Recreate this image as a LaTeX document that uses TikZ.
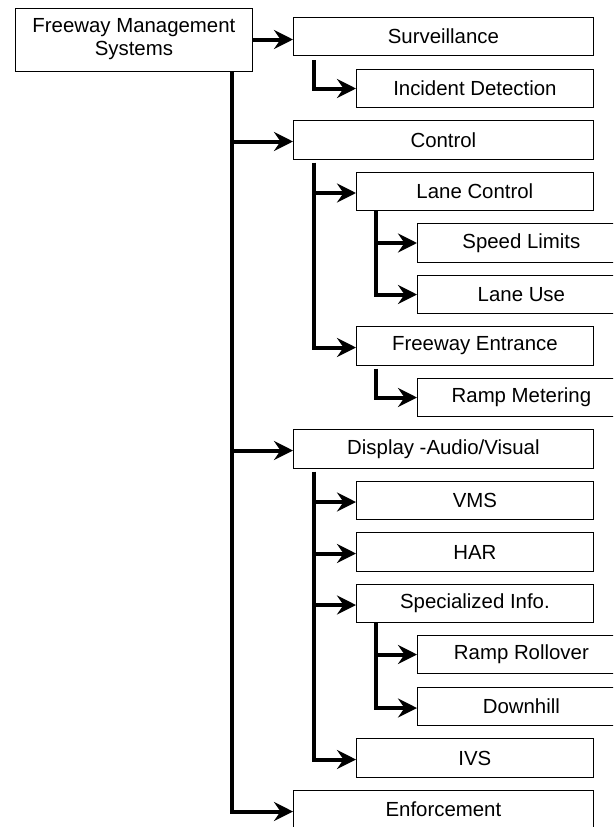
\documentclass[tikz,border=0pt]{standalone}
\usepackage{fontspec}
\setmainfont{Liberation Sans}
\usetikzlibrary{arrows.meta, positioning}

\begin{document}
\begin{tikzpicture}[
    x=1pt, y=-1pt,
    box/.style={draw, line width=0.8pt, minimum height=38.5pt, inner sep=0pt, anchor=west, align=center, font=\fontsize{20.4}{23}\selectfont},
    mainbox/.style={box, minimum width=300pt},
    subbox/.style={box, minimum width=237pt},
    leafbox/.style={box, minimum width=208pt},
    arrow/.style={-{Stealth[length=19pt, width=19pt, inset=6.5pt]}, line width=4pt}
]

\useasboundingbox (0,0) rectangle (613,827);
\clip (0,0) rectangle (613,827);

% Boxes
\node[box, minimum width=237pt, minimum height=63pt] (fms) at (15,39.5) {Freeway Management\\Systems};
\node[mainbox] (surv) at (293,36.5) {Surveillance};
\node[subbox] (incid) at (356,88.5) {Incident Detection};
\node[mainbox] (ctrl) at (293,140) {Control};
\node[subbox] (lanectrl) at (356,191.5) {Lane Control};
\node[leafbox] (speed) at (417,243) {Speed Limits};
\node[leafbox] (laneuse) at (417,294.5) {Lane Use};
\node[subbox] (entr) at (356,346) {Freeway Entrance};
\node[leafbox] (ramp) at (417,397.5) {Ramp Metering};
\node[mainbox] (disp) at (293,449) {Display -Audio/Visual};
\node[subbox] (vms) at (356,500.5) {VMS};
\node[subbox] (har) at (356,552) {HAR};
\node[subbox] (spec) at (356,603.5) {Specialized Info.};
\node[leafbox] (roll) at (417,654.5) {Ramp Rollover};
\node[leafbox] (down) at (417,706.5) {Downhill};
\node[subbox] (ivs) at (356,758) {IVS};
\node[mainbox] (enf) at (293,809.5) {Enforcement};

% Vertical lines of the tree
\coordinate (trunk) at (232,0);
\coordinate (branchA) at (314,0);
\coordinate (branchB) at (376,0);

% Top level
\draw[arrow] (fms.east) -- (fms.east -| surv.west);
\draw[arrow] (trunk |- fms.south) |- ([yshift=-2pt]enf.west);
\foreach \n in {ctrl, disp}
    \draw[arrow] ([yshift=-1.5pt]trunk |- \n.west) -- ([yshift=-1.5pt]\n.west);

% Second level
\draw[arrow] ([yshift=-4pt]branchA |- surv.south) |- (incid.west);
\draw[arrow] ([yshift=-3pt]branchA |- ctrl.south) |- ([yshift=-1.5pt]entr.west);
\draw[arrow] ([yshift=-1.5pt]branchA |- lanectrl.west) -- ([yshift=-1.5pt]lanectrl.west);
\draw[arrow] ([yshift=-3pt]branchA |- disp.south) |- ([yshift=-1.5pt]ivs.west);
\foreach \n in {vms, har, spec}
    \draw[arrow] ([yshift=-1.5pt]branchA |- \n.west) -- ([yshift=-1.5pt]\n.west);

% Third level
\draw[arrow] (branchB |- lanectrl.south) |- (laneuse.west);
\draw[arrow] (branchB |- speed.west) -- (speed.west);
\draw[arrow] ([yshift=-3pt]branchB |- entr.south) |- (ramp.west);
\draw[arrow] (branchB |- spec.south) |- ([yshift=-1.5pt]down.west);
\draw[arrow] (branchB |- roll.west) -- (roll.west);

\end{tikzpicture}
\end{document}
